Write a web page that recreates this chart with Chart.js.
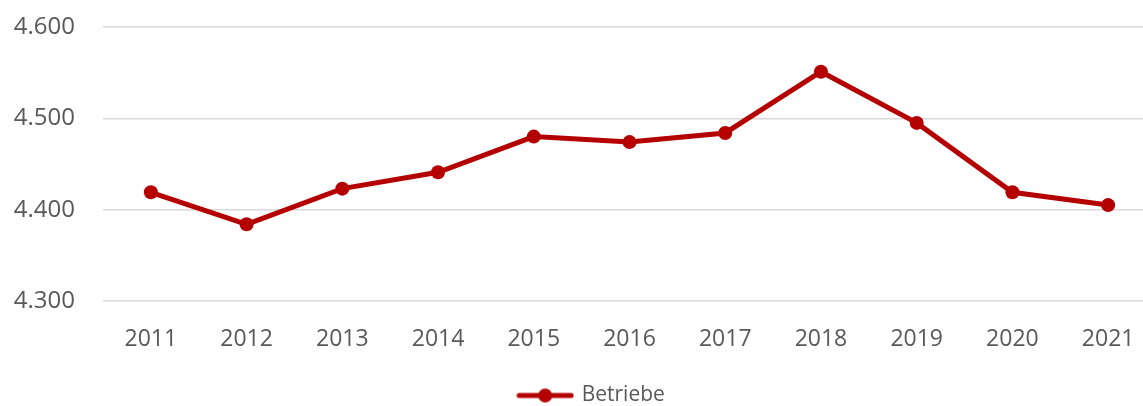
<!DOCTYPE html>
<html>
<head>
<meta charset="utf-8">
<script src="https://cdn.jsdelivr.net/npm/chart.js@4"></script>
<style>
  html, body { margin: 0; padding: 0; background: #fff; overflow: hidden; }
  canvas { display: block; }
</style>
</head>
<body>
<canvas id="chart" width="1156" height="406"></canvas>
<script>
        // Data
        const years = ['2011', '2012', '2013', '2014', '2015', '2016', '2017', '2018', '2019', '2020', '2021'];
        const betriebe = [4419, 4384, 4423, 4441, 4480, 4474, 4484, 4551, 4495, 4419, 4405];
        const yTicks = [4300, 4400, 4500, 4600];

        const red = '#b40000';
        const fontFamily = '"Open Sans", "Noto Sans", sans-serif';

        // Legend marker: line with dot
        function legendMarker() {
            const c = document.createElement('canvas');
            c.width = 58;
            c.height = 16;
            const g = c.getContext('2d');
            g.strokeStyle = red;
            g.lineWidth = 5;
            g.lineCap = 'round';
            g.beginPath();
            g.moveTo(3, 8);
            g.lineTo(55, 8);
            g.stroke();
            g.fillStyle = red;
            g.beginPath();
            g.arc(29, 8, 7, 0, Math.PI * 2);
            g.fill();
            return c;
        }
        const marker = legendMarker();

        // Move legend a bit right and down
        const legendShift = {
            id: 'legendShift',
            afterLayout: function(chart) {
                const lg = chart.legend;
                if (!lg) return;
                lg.left += 14;
                lg.right += 14;
                lg.top += 10;
                lg.bottom += 10;
            }
        };

        const ctx = document.getElementById('chart').getContext('2d');
        new Chart(ctx, {
            type: 'line',
            data: {
                labels: years,
                datasets: [{
                    label: 'Betriebe',
                    data: betriebe,
                    borderColor: red,
                    backgroundColor: red,
                    borderWidth: 5,
                    pointRadius: 7,
                    pointBorderWidth: 0,
                    pointBackgroundColor: red,
                    pointStyle: 'circle',
                    tension: 0
                }]
            },
            options: {
                responsive: false,
                animation: false,
                layout: {
                    autoPadding: false,
                    padding: { top: 27, left: 0, right: 0, bottom: 0 }
                },
                scales: {
                    x: {
                        offset: true,
                        grid: { display: false, drawTicks: false },
                        border: { display: false },
                        ticks: {
                            color: '#595959',
                            font: { family: fontFamily, size: 23 },
                            padding: 25,
                            maxRotation: 0
                        },
                        afterFit: function(scale) {
                            scale.height = 72;
                            scale.paddingLeft = 0;
                            scale.paddingRight = 0;
                        }
                    },
                    y: {
                        min: 4300,
                        max: 4600,
                        afterBuildTicks: function(scale) {
                            scale.ticks = yTicks.map(v => ({ value: v }));
                        },
                        grid: { color: '#d9d9d9', lineWidth: 1.5, drawTicks: false },
                        border: { display: false },
                        ticks: {
                            color: '#595959',
                            font: { family: fontFamily, size: 24 },
                            padding: 28,
                            callback: function(value) {
                                return value.toLocaleString('de-DE');
                            }
                        },
                        afterFit: function(scale) {
                            scale.width = 103;
                            scale.paddingTop = 0;
                            scale.paddingBottom = 0;
                        }
                    }
                },
                plugins: {
                    legend: {
                        position: 'bottom',
                        labels: {
                            usePointStyle: true,
                            pointStyle: marker,
                            pointStyleWidth: 52,
                            padding: 2,
                            color: '#595959',
                            font: { family: fontFamily, size: 21 },
                            generateLabels: function(chart) {
                                return [{
                                    text: 'Betriebe',
                                    pointStyle: marker,
                                    fillStyle: red,
                                    strokeStyle: red,
                                    lineWidth: 0,
                                    fontColor: '#595959',
                                    datasetIndex: 0
                                }];
                            }
                        }
                    },
                    tooltip: { enabled: false }
                }
            },
            plugins: [legendShift]
        });
</script>
</body>
</html>
